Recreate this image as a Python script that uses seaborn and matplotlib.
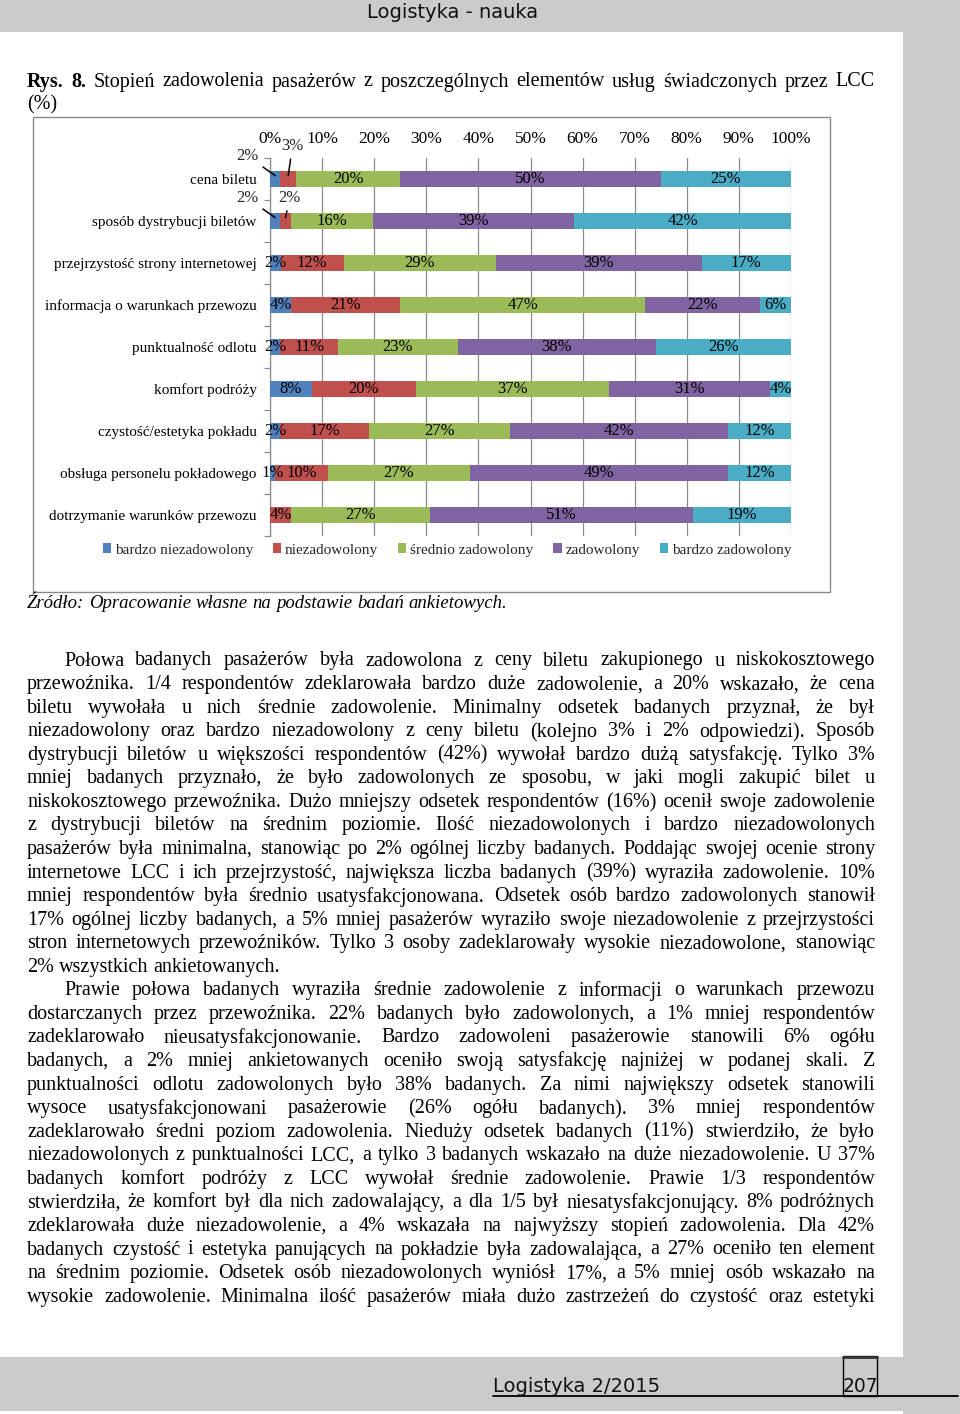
import numpy as np
import pandas as pd
import matplotlib
matplotlib.use("Agg")
import matplotlib.pyplot as plt
import seaborn as sns
from matplotlib.patches import Rectangle, Patch
from matplotlib.lines import Line2D

# ---------------- data ----------------
categories = [
    "cena biletu",
    "sposób dystrybucji biletów",
    "przejrzystość strony internetowej",
    "informacja o warunkach przewozu",
    "punktualność odlotu",
    "komfort podróży",
    "czystość/estetyka pokładu",
    "obsługa personelu pokładowego",
    "dotrzymanie warunków przewozu",
]
series_names = ["bardzo niezadowolony", "niezadowolony", "średnio zadowolony",
                "zadowolony", "bardzo zadowolony"]
bardzo_niezadowolony = [2, 2, 2, 4, 2, 8, 2, 1, 0]
niezadowolony = [3, 2, 12, 21, 11, 20, 17, 10, 4]
srednio_zadowolony = [20, 16, 29, 47, 23, 37, 27, 27, 27]
zadowolony = [50, 39, 39, 22, 38, 31, 42, 49, 51]
bardzo_zadowolony = [25, 42, 17, 6, 26, 4, 12, 12, 19]
x_ticks = [0, 10, 20, 30, 40, 50, 60, 70, 80, 90, 100]
x_tick_labels = [f"{t}%" for t in x_ticks]

colors = ["#4F81BD", "#C0504D", "#9BBB59", "#8064A2", "#4BACC6"]

header_text = "Logistyka - nauka"
footer_text = "Logistyka 2/2015"
page_number = "207"
title_words = "Rys. 8. Stopień zadowolenia pasażerów z poszczególnych elementów usług świadczonych przez LCC"
title_line2 = "(%)"
source_text = "Źródło: Opracowanie własne na podstawie badań ankietowych."

body_lines = [
    "Połowa badanych pasażerów była zadowolona z ceny biletu zakupionego u niskokosztowego",
    "przewoźnika. 1/4 respondentów zdeklarowała bardzo duże zadowolenie, a 20% wskazało, że cena",
    "biletu wywołała u nich średnie zadowolenie. Minimalny odsetek badanych przyznał, że był",
    "niezadowolony oraz bardzo niezadowolony z ceny biletu (kolejno 3% i 2% odpowiedzi). Sposób",
    "dystrybucji biletów u większości respondentów (42%) wywołał bardzo dużą satysfakcję. Tylko 3%",
    "mniej badanych przyznało, że było zadowolonych ze sposobu, w jaki mogli zakupić bilet u",
    "niskokosztowego przewoźnika. Dużo mniejszy odsetek respondentów (16%) ocenił swoje zadowolenie",
    "z dystrybucji biletów na średnim poziomie. Ilość niezadowolonych i bardzo niezadowolonych",
    "pasażerów była minimalna, stanowiąc po 2% ogólnej liczby badanych. Poddając swojej ocenie strony",
    "internetowe LCC i ich przejrzystość, największa liczba badanych (39%) wyraziła zadowolenie. 10%",
    "mniej respondentów była średnio usatysfakcjonowana. Odsetek osób bardzo zadowolonych stanowił",
    "17% ogólnej liczby badanych, a 5% mniej pasażerów wyraziło swoje niezadowolenie z przejrzystości",
    "stron internetowych przewoźników. Tylko 3 osoby zadeklarowały wysokie niezadowolone, stanowiąc",
    "2% wszystkich ankietowanych.",
    "Prawie połowa badanych wyraziła średnie zadowolenie z informacji o warunkach przewozu",
    "dostarczanych przez przewoźnika. 22% badanych było zadowolonych, a 1% mniej respondentów",
    "zadeklarowało nieusatysfakcjonowanie. Bardzo zadowoleni pasażerowie stanowili 6% ogółu",
    "badanych, a 2% mniej ankietowanych oceniło swoją satysfakcję najniżej w podanej skali. Z",
    "punktualności odlotu zadowolonych było 38% badanych. Za nimi największy odsetek stanowili",
    "wysoce usatysfakcjonowani pasażerowie (26% ogółu badanych). 3% mniej respondentów",
    "zadeklarowało średni poziom zadowolenia. Nieduży odsetek badanych (11%) stwierdziło, że było",
    "niezadowolonych z punktualności LCC, a tylko 3 badanych wskazało na duże niezadowolenie. U 37%",
    "badanych komfort podróży z LCC wywołał średnie zadowolenie. Prawie 1/3 respondentów",
    "stwierdziła, że komfort był dla nich zadowalający, a dla 1/5 był niesatysfakcjonujący. 8% podróżnych",
    "zdeklarowała duże niezadowolenie, a 4% wskazała na najwyższy stopień zadowolenia. Dla 42%",
    "badanych czystość i estetyka panujących na pokładzie była zadowalająca, a 27% oceniło ten element",
    "na średnim poziomie. Odsetek osób niezadowolonych wyniósł 17%, a 5% mniej osób wskazało na",
    "wysokie zadowolenie. Minimalna ilość pasażerów miała dużo zastrzeżeń do czystość oraz estetyki",
]
paragraph_starts = {0, 14}
paragraph_ends = {13}

# ---------------- layout helpers ----------------
W, H = 960, 1414
sns.set_theme(style="white")
plt.rcParams["font.family"] = ["Liberation Serif", "DejaVu Serif"]

fig = plt.figure(figsize=(W / 100, H / 100), dpi=100)
fig.patch.set_facecolor("#cbcbcb")


def fx(x):
    return x / W


def fy(y):
    return 1 - y / H


def frect(x0, y0, x1, y1, **kw):
    r = Rectangle((fx(x0), fy(y1)), fx(x1) - fx(x0), fy(y0) - fy(y1),
                  transform=fig.transFigure, **kw)
    fig.add_artist(r)
    return r


# page (white) and bottom strip
frect(0, 32, 903, 1357, facecolor="white", edgecolor="none", zorder=-3)
frect(0, 1411, 903, 1414, facecolor="white", edgecolor="none", zorder=-3)

# chart frame
frect(33, 117, 830, 592, facecolor="none", edgecolor="#8a8a8a", linewidth=1.0, zorder=-2)

# ---------------- chart ----------------
ax = fig.add_axes([fx(270), fy(536), (791 - 270) / W, (536 - 158) / H])
ax.set_facecolor("none")
ax.set_zorder(1)

df = pd.DataFrame({
    "kategoria": categories,
    series_names[0]: bardzo_niezadowolony,
    series_names[1]: niezadowolony,
    series_names[2]: srednio_zadowolony,
    series_names[3]: zadowolony,
    series_names[4]: bardzo_zadowolony,
})
values = df[series_names].to_numpy(float)
shares = values / values.sum(axis=1, keepdims=True) * 100
cum = shares.cumsum(axis=1)

for k in reversed(range(len(series_names))):
    sns.barplot(x=cum[:, k], y=df["kategoria"], order=categories, orient="h",
                color=colors[k], saturation=1, width=0.39, errorbar=None,
                linewidth=0, ax=ax, zorder=3)

ax.set_xlim(0, 100)
ax.set_ylim(len(categories) - 0.5, -0.5)
ax.set_xlabel("")
ax.set_ylabel("")
ax.xaxis.tick_top()
ax.set_xticks(x_ticks)
ax.set_xticklabels(x_tick_labels, fontsize=12.5)
ax.tick_params(axis="x", length=0, pad=8, colors="black")
ax.grid(axis="x", color="#8c8c8c", linewidth=0.9, zorder=0)
ax.set_axisbelow(True)
for s in ["top", "right", "bottom"]:
    ax.spines[s].set_visible(False)
ax.spines["left"].set_color("#8c8c8c")
ax.spines["left"].set_linewidth(0.9)
ax.set_yticks(range(len(categories)))
ax.set_yticklabels(categories, fontsize=11)
ax.set_yticks(np.arange(-0.5, len(categories), 1.0), minor=True)
ax.tick_params(axis="y", which="major", length=0, pad=9.5, colors="black")
ax.tick_params(axis="y", which="minor", length=4, width=0.9, color="#8c8c8c",
               direction="out", left=True)

# outside labels with leader lines (offsets in points)
outside = {
    (0, 0): (-20, 14),
    (0, 1): (3, 21),
    (1, 0): (-20, 14),
    (1, 1): (3, 14),
}
for i in range(len(categories)):
    for k in range(len(series_names)):
        v = values[i, k]
        if v == 0:
            continue
        center = cum[i, k] - shares[i, k] / 2
        label = f"{int(v)}%"
        if (i, k) in outside:
            ox, oy = outside[(i, k)]
            ax.annotate(label, xy=(center, i - 0.08), xytext=(ox, oy),
                        textcoords="offset points", ha="center", va="center",
                        fontsize=12, zorder=6, annotation_clip=False,
                        arrowprops=dict(arrowstyle="-", color="black", lw=1.1,
                                        shrinkA=1, shrinkB=0))
        else:
            ax.text(center, i, label, ha="center", va="center",
                    fontsize=12, color="black", zorder=5)

handles = [Patch(facecolor=c, edgecolor="none") for c in colors]
fig.legend(handles, series_names, loc="center", bbox_to_anchor=(fx(447), fy(550)),
           ncol=5, frameon=False, fontsize=11, handlelength=0.55, handleheight=0.55,
           handletextpad=0.25, columnspacing=1.3, borderaxespad=0, borderpad=0)

# ---------------- page text ----------------
renderer = fig.canvas.get_renderer()
BODY = 14.5


def put_line(parts, y, x0, x1, size, justify=True, style="normal"):
    arts = []
    for w, wt in parts:
        t = fig.text(0, fy(y), w, fontsize=size, fontweight=wt, fontstyle=style,
                     ha="left", va="center", color="black")
        arts.append(t)
    widths = [t.get_window_extent(renderer).width for t in arts]
    space = 0.25 * size * 100 / 72
    if justify and len(arts) > 1:
        gap = (x1 - x0 - sum(widths)) / (len(arts) - 1)
        gap = max(gap, 0.12 * size * 100 / 72)
    else:
        gap = space
    x = x0
    for t, w in zip(arts, widths):
        t.set_x(fx(x))
        x += w + gap


# title
tw = title_words.split()
put_line([(w, "bold" if j < 2 else "normal") for j, w in enumerate(tw)], 82, 27, 875, BODY)
put_line([(title_line2, "normal")], 105, 27, 875, BODY, justify=False)

# source
put_line([(w, "normal") for w in source_text.split()], 604, 27, 875, 13.5,
         justify=False, style="italic")

# body
for n, line in enumerate(body_lines):
    y = 661 + n * 23.56
    x0 = 64 if n in paragraph_starts else 27
    put_line([(w, "normal") for w in line.split()], y, x0, 875, BODY,
             justify=(n not in paragraph_ends))

# header / footer
fig.text(fx(453), fy(12), header_text, fontsize=14, family="DejaVu Sans",
         ha="center", va="center", color="#111111")
fig.text(fx(493), fy(1387), footer_text, fontsize=14, family="DejaVu Sans",
         ha="left", va="center", color="#111111")
fig.add_artist(Line2D([fx(493), fx(958)], [fy(1396), fy(1396)],
                      transform=fig.transFigure, color="black", lw=1.3))
frect(843, 1356, 877, 1396, facecolor="none", edgecolor="black", linewidth=1.0)
fig.add_artist(Line2D([fx(843), fx(877)], [fy(1356.5), fy(1356.5)],
                      transform=fig.transFigure, color="#333333", lw=2))
fig.text(fx(860), fy(1386), page_number, fontsize=13.5, family="DejaVu Sans",
         ha="center", va="center", color="#111111")

fig.savefig("out.png", dpi=100, facecolor=fig.get_facecolor())
